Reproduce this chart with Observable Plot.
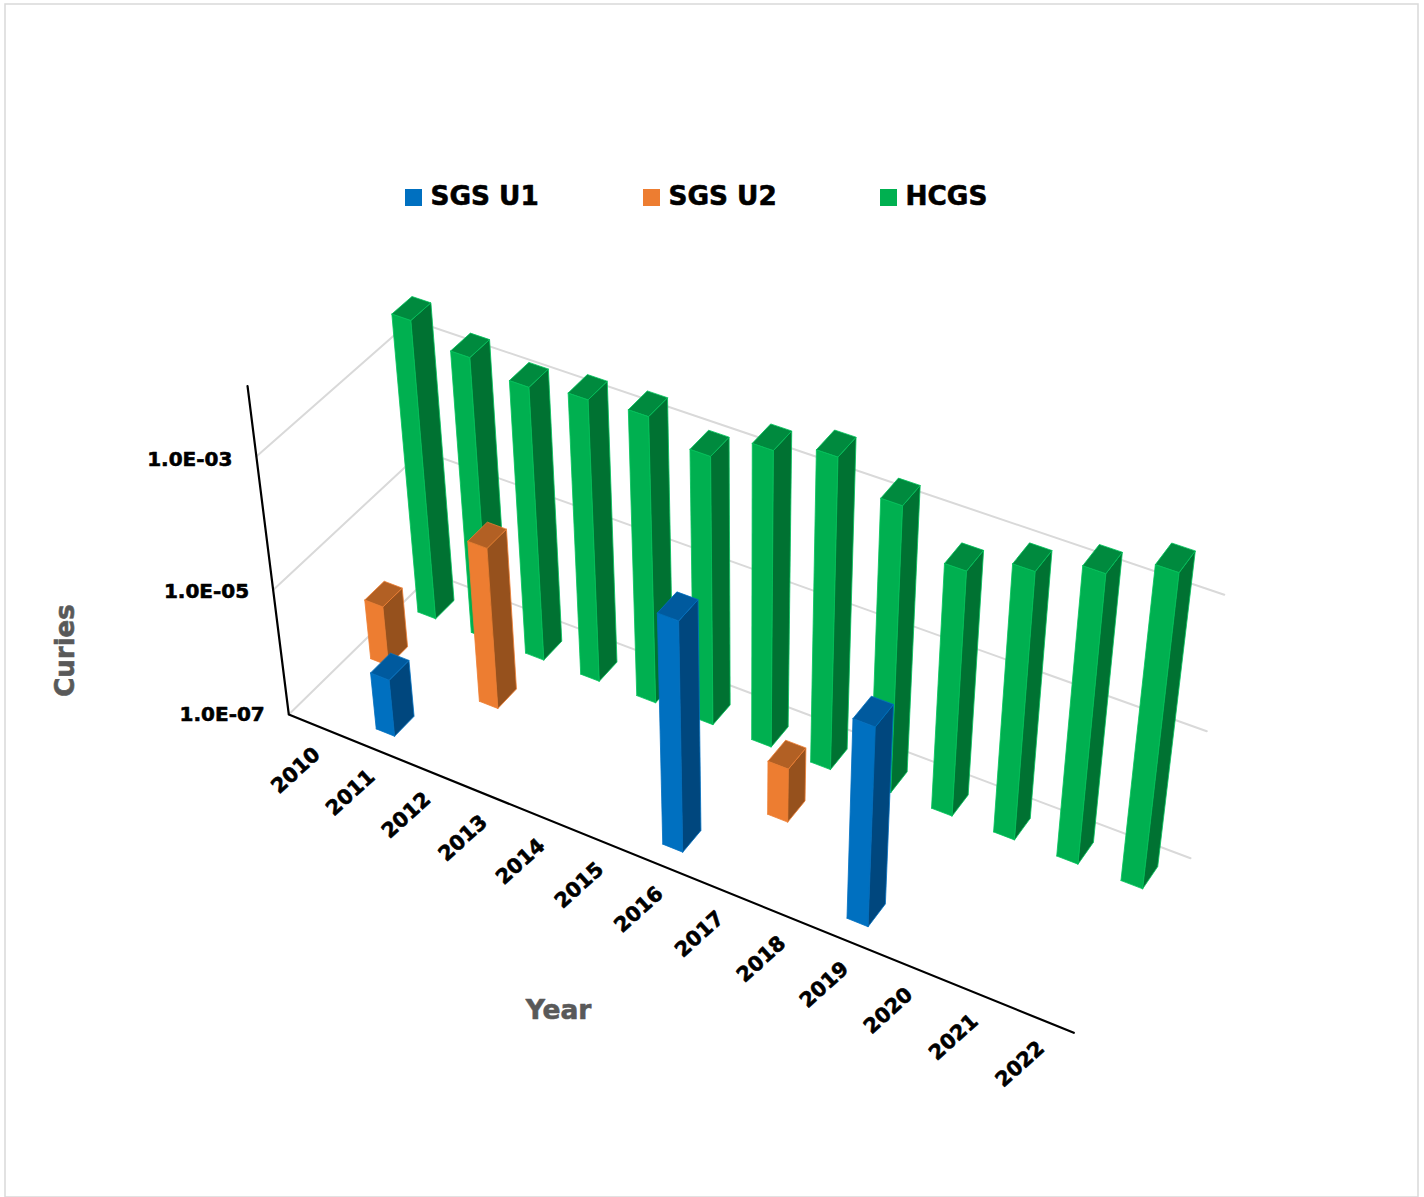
<!DOCTYPE html>
<html>
<head>
<meta charset="utf-8">
<style>html,body{margin:0;padding:0;background:#fff}svg{display:block}</style>
<script src="https://cdn.jsdelivr.net/npm/d3@7"></script>
<script src="https://cdn.jsdelivr.net/npm/@observablehq/plot@0.6"></script>
</head>
<body>
<div id="chart"></div>
<script>
// Annual activity released, in curies, by unit. null means no release that year.
const years = [2010,2011,2012,2013,2014,2015,2016,2017,2018,2019,2020,2021,2022];
const sgsU1 = [null,8.2e-7,null,null,null,null,3.6e-4,null,null,1.2e-4,null,null,null];
const sgsU2 = [9.2e-7,null,3.5e-5,null,null,null,null,7.2e-7,null,null,null,null,null];
const hcgs  = [4.2e-3,2.35e-3,1.7e-3,2.2e-3,2.5e-3,1.35e-3,3.3e-3,5.4e-3,2.3e-3,5.7e-4,1.2e-3,2.4e-3,5.3e-3];
const valueTicks = [1e-7,1e-5,1e-3];
const valueTickLabels = ["1.0E-07","1.0E-05","1.0E-03"];

const seriesNames = ["SGS U1","SGS U2","HCGS"];
const seriesValues = [sgsU1,sgsU2,hcgs];
const frontColors = ["#0070C0","#ED7D31","#00B050"];
const sideColors  = ["#00477E","#96511D","#007232"];
const topColors   = ["#005A9E","#B26024","#008A3E"];
const edgeColors  = ["#0070C0","#ED7D31","#00C45A"];

// Perspective box: floor corners, the height of the front wall and the point
// where all vertical edges converge, on the page.
const floorFrontLeft = [288.3,714], floorFrontRight = [1073.3,1032.3];
const floorBackRight = [1190,857.7], floorBackLeft = [432.1,573.2];
const wallFrontTopY = 456, verticalVanishing = [744,4340];
const minDecade = -7, boxDecades = 4;

function buildCamera(p0,p1,p2,p3,topY,vanishing){
  const dx1=p1[0]-p2[0], dx2=p3[0]-p2[0], sx=p0[0]-p1[0]+p2[0]-p3[0];
  const dy1=p1[1]-p2[1], dy2=p3[1]-p2[1], sy=p0[1]-p1[1]+p2[1]-p3[1];
  const den=dx1*dy2-dx2*dy1;
  const g=(sx*dy2-dx2*sy)/den, h=(dx1*sy-sx*dy1)/den;
  const a=p1[0]-p0[0]+g*p1[0], b=p3[0]-p0[0]+h*p3[0], c=p0[0];
  const d=p1[1]-p0[1]+g*p1[1], e=p3[1]-p0[1]+h*p3[1], f=p0[1];
  const m3=(topY-f)/(vanishing[1]-topY), m1=vanishing[0]*m3, m2=vanishing[1]*m3;
  return {a,b,c,d,e,f,g,h,m1,m2,m3};
}
const cam = buildCamera(floorFrontLeft,floorFrontRight,floorBackRight,floorBackLeft,wallFrontTopY,verticalVanishing);

// Maps category position, depth (0 front, 1 back) and activity to page coordinates.
function project(t,depth,value){
  const u=t/years.length, z=(Math.log10(value)-minDecade)/boxDecades;
  const w=cam.g*u+cam.h*depth+cam.m3*z+1;
  return {x:(cam.a*u+cam.b*depth+cam.m1*z+cam.c)/w, y:(cam.d*u+cam.e*depth+cam.m2*z+cam.f)/w};
}

// Each bar becomes three closed polygons: front, right side and top.
const barHalfWidth=1/6, barHalfDepth=(1/3)*0.4/2, baseValue=1e-7;
const faces=[];
[2,1,0].forEach(s=>{
  const centre=(s+0.5)/3;
  seriesValues[s].forEach((v,i)=>{
    if(v==null) return;
    const t0=i+0.5-barHalfWidth,t1=i+0.5+barHalfWidth,d0=centre-barHalfDepth,d1=centre+barHalfDepth;
    const polys=[
      ["front",frontColors[s],[[t0,d0,baseValue],[t1,d0,baseValue],[t1,d0,v],[t0,d0,v]]],
      ["side",sideColors[s],[[t1,d0,baseValue],[t1,d1,baseValue],[t1,d1,v],[t1,d0,v]]],
      ["top",topColors[s],[[t0,d0,v],[t1,d0,v],[t1,d1,v],[t0,d1,v]]]
    ];
    polys.forEach(([name,fill,pts])=>{
      [...pts,pts[0]].forEach(p=>{
        faces.push({id:`${s}-${i}-${name}`,fill,edge:edgeColors[s],...project(...p)});
      });
    });
  });
});

// Gridlines run along the left wall and then the back wall.
const grid=valueTicks.flatMap(v=>[
  {v,...project(0,0,v)},{v,...project(0,1,v)},{v,...project(years.length,1,v)}
]);
const axisLines=[
  {id:"value",...project(0,0,1e-2)},{id:"value",...project(0,0,1e-7)},
  {id:"value",...project(years.length,0,1e-7)}
];
const valueLabelNudge=[0,2,3];
const valueLabels=valueTicks.map((v,i)=>{
  const p=project(0,0,v);
  return {label:valueTickLabels[i],x:p.x,y:p.y+valueLabelNudge[i]};
});
const yearLabels=years.map((yr,i)=>({label:String(yr),...project(i+0.5,0,1e-7)}));

const font="DejaVu Sans";
const legendX=[405,643,880], legendY=197.5;
const legend=seriesNames.map((name,i)=>({name,x:legendX[i],y:legendY,color:frontColors[i]}));
const heavy={fontFamily:font,fontWeight:"bold",strokeWidth:0.6};

const chart=Plot.plot({
  width:1424,height:1197,margin:0,
  x:{type:"identity",axis:null},y:{type:"identity",axis:null},color:{type:"identity"},
  marks:[
    Plot.frame({stroke:"#D9D9D9",strokeWidth:1.5,insetLeft:4.5,insetTop:3.5,insetRight:6.5,insetBottom:0.5}),
    Plot.line(grid,{x:"x",y:"y",z:"v",stroke:"#D9D9D9",strokeWidth:2}),
    Plot.line(axisLines,{x:"x",y:"y",z:"id",stroke:"#000",strokeWidth:2.2}),
    Plot.line(faces,{x:"x",y:"y",z:"id",fill:"fill",stroke:"edge",strokeWidth:0.8}),
    Plot.text(valueLabels,{x:"x",y:"y",text:"label",dx:-24,textAnchor:"end",fontSize:20,fill:"#000",stroke:"#000",...heavy}),
    Plot.text(yearLabels,{x:"x",y:"y",text:"label",dx:-20,dy:45,rotate:-42,fontSize:20.5,fill:"#000",stroke:"#000",...heavy}),
    Plot.text(["Curies"],{x:()=>65,y:()=>650,text:d=>d,rotate:-90,fontSize:26,fill:"#595959",stroke:"#595959",...heavy}),
    Plot.text(["Year"],{x:()=>558,y:()=>1010,text:d=>d,fontSize:26.5,fill:"#595959",stroke:"#595959",...heavy}),
    Plot.rect(legend,{x1:"x",x2:d=>d.x+17,y1:d=>d.y-8.5,y2:d=>d.y+8.5,fill:"color"}),
    Plot.text(legend,{x:d=>d.x+25,y:"y",dy:-1.5,text:"name",textAnchor:"start",fontSize:26.3,fill:"#000",stroke:"#000",...heavy})
  ]
});
document.getElementById("chart").append(chart);
</script>
</body>
</html>
